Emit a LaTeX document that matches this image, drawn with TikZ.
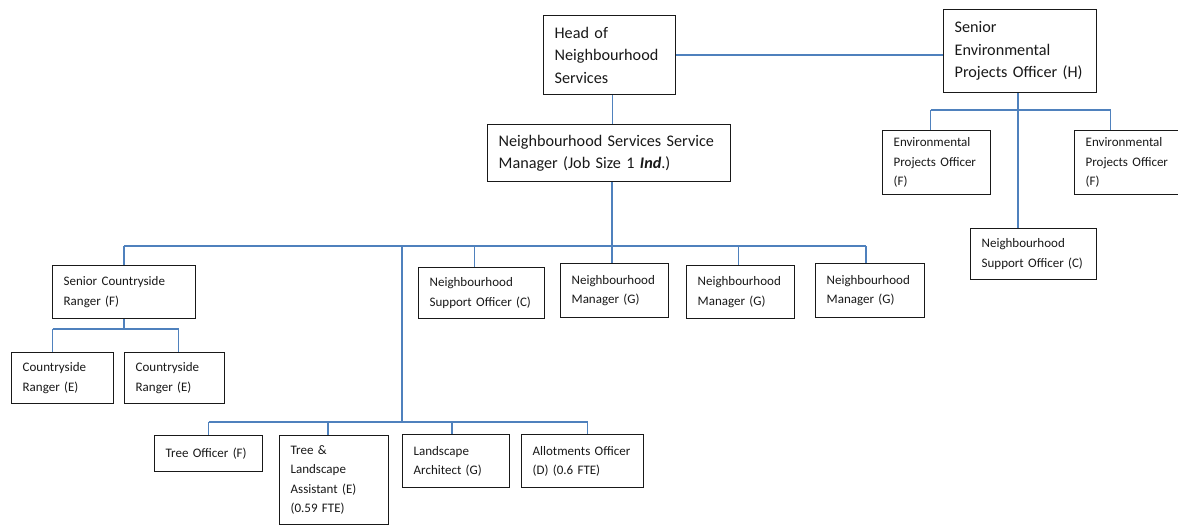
\documentclass[tikz,border=0pt]{standalone}
\usepackage{fontspec}
\setmainfont{Carlito}
\usetikzlibrary{positioning,calc}
\definecolor{link blue}{RGB}{79,129,189}
\newcommand\bigpostfont{\fontsize{16.2}{22.5}\selectfont}
\newcommand\smallpostfont{\fontsize{13}{19.5}\selectfont}
\tikzset{
    post edge/.style={black!90},
    post box/.style={draw,post edge,line width=1.3pt,rectangle,anchor=north west,
        inner xsep=11pt,inner ysep=2pt,align=left},
    post size/.code 2 args={\pgfmathsetmacro\posttw{#1-22}%
        \tikzset{minimum width=#1pt,minimum height=#2pt,text width=\posttw pt}},
    big post/.style={post box,font=\bigpostfont},
    small post/.style={post box,font=\smallpostfont},
    link line/.style={draw=link blue,line width=1.5pt},
}
\tikzstyle{every node}=[text=black]
\begin{document}
\begin{tikzpicture}[x=1pt,y=-1pt]
    \path[fill=white,use as bounding box] (0,0) rectangle (1178,525);

    % top of the chart
    \node[big post,post size={132}{79}] (head) at (543,15) {Head of\\Neighbourhood\\Services};
    \node[big post,post size={153}{83}] (sepo) at (943,9) {Senior\\Environmental\\Projects Officer (H)};
    \node[big post,post size={243}{57}] (nssm) at (487,124)
    {Neighbourhood Services Service\\Manager (Job Size 1 \textbf{\textit{Ind}}.)};

    % environmental projects team
    \node[small post,post size={108}{64}] (epo1) at (882,130) {Environmental\\Projects Officer\\(F)};
    \node[small post,post size={108}{64}] (epo2) at (1074,130) {Environmental\\Projects Officer\\(F)};
    \node[small post,post size={126}{51}] (nso2) at (970,228) {Neighbourhood\\Support Officer (C)};

    % neighbourhood services row
    \node[small post,post size={143}{53}] (scr) at (52,265) {Senior Countryside\\Ranger (F)};
    \node[small post,post size={126}{51}] (nso) at (418,267) {Neighbourhood\\Support Officer (C)};
    \node[small post,post size={108}{54}] (nm1) at (560,263) {Neighbourhood\\Manager (G)};
    \node[small post,post size={108}{53}] (nm2) at (686,265) {Neighbourhood\\Manager (G)};
    \node[small post,post size={109}{54}] (nm3) at (815,263) {Neighbourhood\\Manager (G)};

    % rangers
    \node[small post,post size={102}{51}] (cr1) at (11,352) {Countryside\\Ranger (E)};
    \node[small post,post size={100}{51}] (cr2) at (124,352) {Countryside\\Ranger (E)};

    % trees, landscape and allotments
    \node[small post,post size={108}{36}] (tree) at (154,435) {Tree Officer (F)};
    \node[small post,post size={109}{89}] (tla) at (279,435) {Tree \&\\Landscape\\Assistant (E)\\(0.59 FTE)};
    \node[small post,post size={107}{53}] (la) at (402,434) {Landscape\\Architect (G)};
    \node[small post,post size={122}{53}] (allot) at (521,434) {Allotments Officer\\(D) (0.6 FTE)};

    \coordinate (sepo bus) at (0,110);
    \coordinate (main bus) at (0,246);
    \coordinate (ranger bus) at (0,329);
    \coordinate (low bus) at (0,422);
    \coordinate (split) at (402,246);

    \path[link line] (head.east) -- (head.east -| sepo.west);
    \path[link line] ([xshift=3pt]head.south) -- ([xshift=3pt]head.south |- nssm.north);
    \path[link line] ([xshift=3pt]nssm.south) -- ([xshift=3pt]nssm.south |- nm1.north);

    % senior environmental projects officer
    \path[link line] ([xshift=-2pt]sepo.south) -- ([xshift=-2pt]sepo.south |- nso2.north);
    \path[link line] ([xshift=-6pt]epo1.north |- sepo bus) -- ([xshift=-18pt]epo2.north |- sepo bus);
    \foreach \p/\s in {epo1/-6,epo2/-18}
        \path[link line] ([xshift=\s pt]\p.north |- sepo bus) -- ([xshift=\s pt]\p.north);

    % main row
    \path[link line] (scr.north |- main bus) -- ([xshift=-4pt]nm3.north |- main bus);
    \foreach \p/\s in {scr/0,nso/-7,nm2/-2,nm3/-4}
        \path[link line] ([xshift=\s pt]\p.north |- main bus) -- ([xshift=\s pt]\p.north);

    % rangers
    \path[link line] (scr.south) -- (scr.south |- ranger bus);
    \path[link line] ([xshift=-10pt]cr1.north |- ranger bus) -- ([xshift=4pt]cr2.north |- ranger bus);
    \foreach \p/\s in {cr1/-10,cr2/4}
        \path[link line] ([xshift=\s pt]\p.north |- ranger bus) -- ([xshift=\s pt]\p.north);

    % lower row
    \path[link line] (split) -- (split |- low bus);
    \path[link line] (tree.north |- low bus) -- ([xshift=5pt]allot.north |- low bus);
    \foreach \p/\s in {tree/0,tla/-6,la/-4,allot/5}
        \path[link line] ([xshift=\s pt]\p.north |- low bus) -- ([xshift=\s pt]\p.north);
\end{tikzpicture}
\end{document}
